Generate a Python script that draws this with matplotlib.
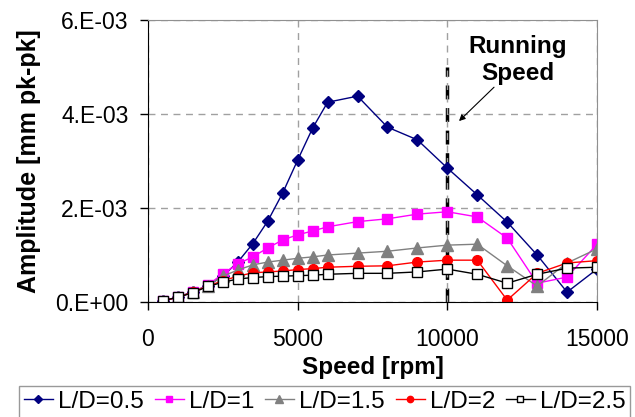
import numpy as np
import matplotlib.pyplot as plt
from matplotlib.ticker import FuncFormatter

plt.rcParams['font.family'] = ['Liberation Sans', 'DejaVu Sans']

speed = [500, 1000, 1500, 2000, 2500, 3000, 3500, 4000, 4500, 5000, 5500,
         6000, 7000, 8000, 9000, 10000, 11000, 12000, 13000, 14000, 15000]

# amplitudes in units of 1e-3 mm pk-pk
ld_05 = [0.03, 0.10, 0.22, 0.35, 0.55, 0.85, 1.24, 1.72, 2.32, 3.02, 3.70,
         4.25, 4.38, 3.72, 3.45, 2.85, 2.28, 1.70, 1.00, 0.21, 0.70]
ld_10 = [0.03, 0.10, 0.21, 0.36, 0.60, 0.81, 0.96, 1.15, 1.32, 1.43, 1.51,
         1.60, 1.71, 1.77, 1.87, 1.92, 1.81, 1.36, 0.40, 0.53, 1.23]
ld_15 = [0.03, 0.10, 0.21, 0.35, 0.55, 0.68, 0.79, 0.85, 0.89, 0.93, 0.96,
         1.00, 1.04, 1.08, 1.15, 1.21, 1.23, 0.77, 0.34, 0.83, 1.13]
ld_20 = [0.03, 0.10, 0.21, 0.34, 0.45, 0.55, 0.62, 0.64, 0.66, 0.69, 0.71,
         0.74, 0.76, 0.77, 0.85, 0.89, 0.89, 0.04, 0.61, 0.83, 0.88]
ld_25 = [0.03, 0.10, 0.20, 0.33, 0.42, 0.49, 0.52, 0.54, 0.55, 0.56, 0.57,
         0.59, 0.61, 0.61, 0.64, 0.70, 0.59, 0.40, 0.59, 0.72, 0.74]

labels = ['L/D=0.5', 'L/D=1', 'L/D=1.5', 'L/D=2', 'L/D=2.5']
running_speed = 10000

fig = plt.figure(figsize=(6.35, 4.17), dpi=100)
ax = fig.add_axes([148 / 635, 1 - 302 / 417, 449 / 635, 282 / 417])

styles = [
    dict(color='#000080', marker='D', markersize=6.5, mfc='#000080', mec='#000080'),
    dict(color='#FF00FF', marker='s', markersize=7, mfc='#FF00FF', mec='#FF00FF'),
    dict(color='#808080', marker='^', markersize=8, mfc='#808080', mec='#808080'),
    dict(color='#FF0000', marker='o', markersize=7, mfc='#FF0000', mec='#FF0000'),
    dict(color='#000000', marker='s', markersize=7, mfc='white', mec='#000000'),
]
series = [ld_05, ld_10, ld_15, ld_20, ld_25]
for vals, lab, st in zip(series, labels, styles):
    ax.plot(speed, np.array(vals) * 1e-3, lw=1.0, label=lab, **st)

ax.set_xlim(0, 15000)
ax.set_ylim(0, 6e-3)
ax.set_xticks([0, 5000, 10000, 15000])
ax.set_yticks([0, 2e-3, 4e-3, 6e-3])
ax.yaxis.set_major_formatter(FuncFormatter(
    lambda v, p: '0.E+00' if v == 0 else '%d.E-03' % round(v * 1e3)))
ax.tick_params(labelsize=16.5, length=6, width=1, direction='out')
ax.tick_params(axis='y', pad=8)
ax.tick_params(axis='x', pad=12.5)
ax.grid(True, ls=(0, (5, 4)), color='#A0A0A0', lw=1)

for s in ['top', 'right']:
    ax.spines[s].set_color('#909090')
ax.spines['left'].set_color('black')
ax.spines['bottom'].set_color('black')

ax.set_xlabel('Speed [rpm]', fontsize=17.5, fontweight='bold', labelpad=4)
ax.set_ylabel('Amplitude [mm pk-pk]', fontsize=18, fontweight='bold', labelpad=10)

# running speed marker
ax.plot([running_speed, running_speed], [0, 5.0e-3], color='black', lw=2.5,
        ls=(0, (4, 2.5)), zorder=1)
ax.text(12360, 5.15e-3, 'Running\nSpeed', ha='center', va='center',
        fontsize=17.5, fontweight='bold', linespacing=1.2)
ax.annotate('', xy=(10390, 3.85e-3), xytext=(11560, 4.57e-3),
            arrowprops=dict(arrowstyle='-|>', color='black', lw=0.8,
                            mutation_scale=9, shrinkA=0, shrinkB=0))

fig.legend(loc='upper left', bbox_to_anchor=(19 / 635, 1 - 386 / 417), ncol=5,
           fontsize=17.5, frameon=True, fancybox=False, edgecolor='#808080',
           handlelength=1.2, handletextpad=0.2, columnspacing=0.45,
           borderpad=0.2, borderaxespad=0, markerscale=0.65)

fig.savefig('out.png', dpi=100)
